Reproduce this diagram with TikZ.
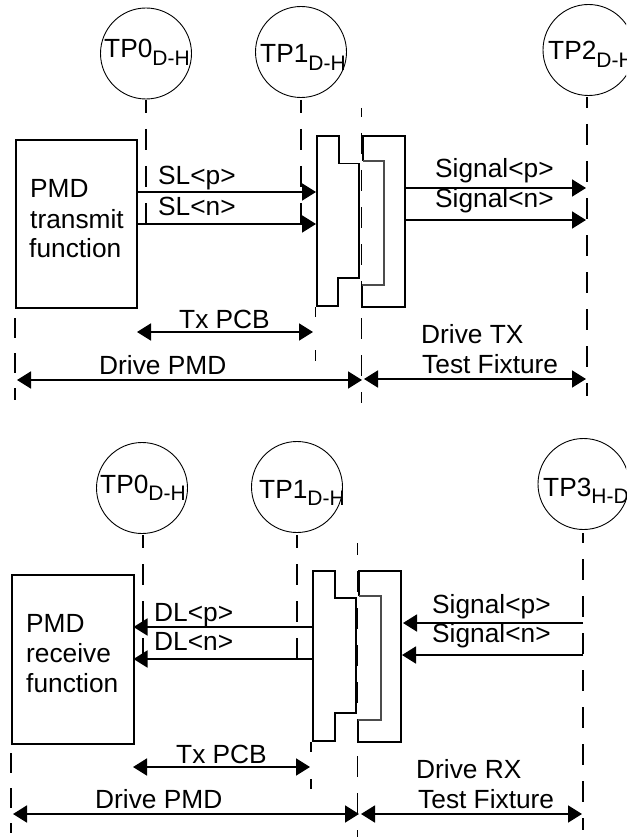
\documentclass[tikz,border=0pt]{standalone}
\usepackage{fontspec}
\setmainfont{Liberation Sans}
\usetikzlibrary{arrows.meta}
\newcommand{\tpname}[2]{#1\raisebox{-7.5pt}{\fontsize{21}{22}\selectfont #2}}
\tikzset{
  lbl/.style={anchor=base west,inner sep=0pt,font=\fontsize{26.3}{30}\selectfont,text=black},
  tpcircle/.style={circle,draw=black,line width=0.9pt,minimum size=91pt,inner sep=0pt},
  boxl/.style={draw=black,line width=1.8pt,line join=miter},
  thinl/.style={draw=black!70,line width=1.1pt},
  sig/.style={draw=black,line width=1.8pt,-{Triangle[length=14pt,width=17pt]}},
  dbl/.style={draw=black,line width=1.8pt,{Triangle[length=14pt,width=17pt]}-{Triangle[length=14pt,width=17pt]},shorten <=0pt,shorten >=0pt},
  dashA/.style={draw=black,line width=1.4pt,dash pattern=on 21pt off 16pt,dash phase=#1},
  dashB/.style={draw=black,line width=1.4pt,dash pattern=on 20pt off 15pt},
  plain/.style={draw=black,line width=1.4pt},
}
\begin{document}
\begin{tikzpicture}[x=1pt,y=-1pt]
\useasboundingbox (0,0) rectangle (626,837);
\clip (0,0) rectangle (626,837);
% ---------- transmit half
\node[tpcircle] (tpa) at (146,53.5) {};
\node[tpcircle] (tpb) at (301,52) {};
\node[tpcircle] (tpc) at (588.5,50) {};
\node[lbl] (ta) at (104,58) {\tpname{TP0}{D-H}};
\node[lbl] (tb) at (260,63) {\tpname{TP1}{D-H}};
\node[lbl] (tc) at (548,60) {\tpname{TP2}{D-H}};
\node[draw=black,line width=1.8pt,anchor=north west,minimum width=121pt,minimum height=168pt,inner sep=0pt] (pmdt) at (15,139) {};
\coordinate (a0) at (146,100); \coordinate (a1) at (146,234);
\coordinate (b0) at (301,100); \coordinate (b1) at (301,234);
\coordinate (c0) at (587,97);  \coordinate (c1) at (587,396);
\coordinate (m0) at (361.5,108); \coordinate (m1) at (361.5,403);
\coordinate (l0) at (15,318);  \coordinate (l1) at (15,400);
\coordinate (e0) at (315.5,307); \coordinate (e1) at (315.5,317);
\coordinate (e2) at (315.5,350); \coordinate (e3) at (315.5,361);
\draw[dashA=8] (a0) -- (a1);
\draw[dashA=8] (b0) -- (b1);
\draw[dashA=10] (c0) -- (c1);
\draw[dashA=12] (m0) -- (m1);
\draw[dashB] (l0) -- (l1);
\draw[plain] (e0) -- (e1);
\draw[plain] (e2) -- (e3);
\draw[boxl] (317,136) -- (339,136) -- (339,163.5) -- (359,163.5) -- (359,278) -- (338,278) -- (338,306) -- (317,306) -- cycle;
\draw[boxl] (363,161) -- (363,136) -- (405,136) -- (405,307) -- (362,307) -- (362,285);
\draw[thinl] (362,285) -- (384,285) -- (384,161) -- (363,161);
\coordinate (s1a) at (136,192); \coordinate (s1b) at (316,192);
\coordinate (s2a) at (136,224); \coordinate (s2b) at (316,224);
\coordinate (s3a) at (405,188); \coordinate (s3b) at (586,188);
\coordinate (s4a) at (405,220); \coordinate (s4b) at (586,220);
\draw[sig] (s1a) -- (s1b);
\draw[sig] (s2a) -- (s2b);
\draw[sig] (s3a) -- (s3b);
\draw[sig] (s4a) -- (s4b);
\coordinate (d1a) at (137,332); \coordinate (d1b) at (313,332);
\coordinate (d2a) at (17,380);  \coordinate (d2b) at (362,380);
\coordinate (d3a) at (364,379); \coordinate (d3b) at (586,379);
\draw[dbl] (d1a) -- (d1b);
\draw[dbl] (d2a) -- (d2b);
\draw[dbl] (d3a) -- (d3b);
\node[lbl] (x1) at (30,197) {PMD};
\node[lbl] (x2) at (30,228) {transmit};
\node[lbl] (x3) at (29,257) {function};
\node[lbl] (x4) at (158,185) {SL<p>};
\node[lbl] (x5) at (158,215) {SL<n>};
\node[lbl] (x6) at (435,178) {Signal<p>};
\node[lbl] (x7) at (435,207) {Signal<n>};
\node[lbl] (x8) at (179,328) {Tx PCB};
\node[lbl] (x9) at (99,374) {Drive PMD};
\node[lbl] (x10) at (421,343) {Drive TX};
\node[lbl] (x11) at (422,373) {Test Fixture};
% ---------- receive half
\node[tpcircle] (tpd) at (142,488) {};
\node[tpcircle] (tpe) at (297,487) {};
\node[tpcircle] (tpf) at (583.5,484) {};
\node[lbl] (td) at (100,493) {\tpname{TP0}{D-H}};
\node[lbl] (te) at (259,498) {\tpname{TP1}{D-H}};
\node[lbl] (tf) at (543,496) {\tpname{TP3}{H-D}};
\node[draw=black,line width=1.8pt,anchor=north west,minimum width=122pt,minimum height=169pt,inner sep=0pt] (pmdr) at (11,574) {};
\coordinate (f0) at (143,535); \coordinate (f1) at (143,669);
\coordinate (g0) at (297,535); \coordinate (g1) at (297,669);
\coordinate (h0) at (583,533); \coordinate (h1) at (583,830);
\coordinate (n0) at (357.5,543); \coordinate (n1) at (357.5,837);
\coordinate (k0) at (11,753); \coordinate (k1) at (11,833);
\coordinate (q0) at (311,742); \coordinate (q1) at (311,752);
\coordinate (q2) at (311,779); \coordinate (q3) at (311,789);
\draw[dashA=8] (f0) -- (f1);
\draw[dashA=8] (g0) -- (g1);
\draw[dashA=11] (h0) -- (h1);
\draw[dashA=9] (n0) -- (n1);
\draw[dashB] (k0) -- (k1);
\draw[plain] (q0) -- (q1);
\draw[plain] (q2) -- (q3);
\draw[boxl] (313,571) -- (335,571) -- (335,598) -- (356,598) -- (356,713) -- (335,713) -- (335,741) -- (313,741) -- cycle;
\draw[boxl] (359,596) -- (359,571) -- (401,571) -- (401,742) -- (358,742) -- (358,720);
\draw[thinl] (358,720) -- (381,720) -- (381,596) -- (359,596);
\coordinate (r1a) at (313,627); \coordinate (r1b) at (133.5,627);
\coordinate (r2a) at (313,659); \coordinate (r2b) at (133.5,659);
\coordinate (r3a) at (583,623); \coordinate (r3b) at (403,623);
\coordinate (r4a) at (583,655); \coordinate (r4b) at (402,655);
\draw[sig] (r1a) -- (r1b);
\draw[sig] (r2a) -- (r2b);
\draw[sig] (r3a) -- (r3b);
\draw[sig] (r4a) -- (r4b);
\coordinate (u1a) at (133,767); \coordinate (u1b) at (310,767);
\coordinate (u2a) at (13,814);  \coordinate (u2b) at (359,814);
\coordinate (u3a) at (361,814); \coordinate (u3b) at (582,814);
\draw[dbl] (u1a) -- (u1b);
\draw[dbl] (u2a) -- (u2b);
\draw[dbl] (u3a) -- (u3b);
\node[lbl] (y1) at (26,632) {PMD};
\node[lbl] (y2) at (26,662) {receive};
\node[lbl] (y3) at (26,692) {function};
\node[lbl] (y4) at (154,621) {DL<p>};
\node[lbl] (y5) at (154,650) {DL<n>};
\node[lbl] (y6) at (432,613) {Signal<p>};
\node[lbl] (y7) at (432,642) {Signal<n>};
\node[lbl] (y8) at (176,763) {Tx PCB};
\node[lbl] (y9) at (95,808) {Drive PMD};
\node[lbl] (y10) at (416,778) {Drive RX};
\node[lbl] (y11) at (418,808) {Test Fixture};
\end{tikzpicture}
\end{document}
